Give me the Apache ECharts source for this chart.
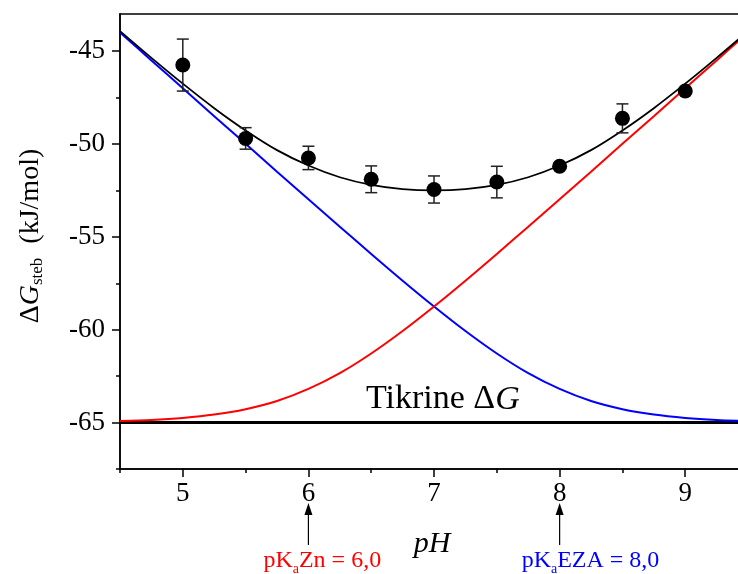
<!DOCTYPE html>
<html><head><meta charset="utf-8">
<script src="https://cdn.jsdelivr.net/npm/echarts@6/dist/echarts.min.js"></script>
<style>html,body{margin:0;padding:0;background:#fff}#c{width:738px;height:574px}</style>
</head><body><div id="c"></div>
<script>
// pH grid of the model curves
const curvePH   = [4.5, 4.75, 5.0, 5.25, 5.5, 5.75, 6.0, 6.25, 6.5, 6.75, 7.0, 7.25, 7.5, 7.75, 8.0, 8.25, 8.5, 8.75, 9.0, 9.25, 9.5];
// blue curve (EZA contribution)
const blueCurve = [-44.0, -45.5, -47.0, -48.5, -49.99, -51.49, -52.97, -54.45, -55.92, -57.36, -58.75, -60.07, -61.28, -62.34, -63.19, -63.84, -64.28, -64.57, -64.75, -64.86, -64.92];
// red curve (Zn contribution)
const redCurve  = [-64.92, -64.86, -64.75, -64.57, -64.28, -63.84, -63.19, -62.34, -61.28, -60.07, -58.75, -57.36, -55.92, -54.45, -52.97, -51.49, -49.99, -48.5, -47.0, -45.5, -44.0];
// black fit curve
const fitCurve  = [-43.92, -45.36, -46.75, -48.07, -49.27, -50.33, -51.16, -51.79, -52.2, -52.43, -52.5, -52.43, -52.2, -51.79, -51.16, -50.33, -49.27, -48.07, -46.75, -45.36, -43.92];
// measured points
const dataPH  = [5, 5.5, 6, 6.5, 7, 7.5, 8, 8.5, 9];
const dataDG  = [-45.75, -49.7, -50.75, -51.9, -52.45, -52.05, -51.2, -48.62, -47.15];
const dataErr = [1.4, 0.58, 0.63, 0.72, 0.73, 0.85, 0, 0.78, 0];
// intrinsic dG line
const intrinsicDG = -65;
const intrinsicLabel = 'Tikrine \u0394';
// axis ticks
const xMajor = [5, 6, 7, 8, 9];
const xMinor = [4.5, 5.5, 6.5, 7.5, 8.5];
const yMajor = [-65, -60, -55, -50, -45];
const yMinor = [-67.5, -62.5, -57.5, -52.5, -47.5];
const xRange = [4.5, 9.42];
const yRange = [-67.5, -43];
// pKa annotations
const pKaZn = 6.0, pKaEZA = 8.0;

const FONT = 'Liberation Serif';
const chart = echarts.init(document.getElementById('c'), null, {renderer: 'canvas'});
const G = {left: 120, top: 14, right: 0, bottom: 105};

function xAx(extra) {
  return Object.assign({
    type: 'value', min: xRange[0], max: xRange[1], position: 'bottom',
    splitLine: {show: false},
    axisLine: {show: true, lineStyle: {color: '#000', width: 1.5}},
    axisTick: {show: false}, axisLabel: {show: false}
  }, extra);
}
function yAx(extra) {
  return Object.assign({
    type: 'value', min: yRange[0], max: yRange[1], position: 'left',
    splitLine: {show: false},
    axisLine: {show: true, lineStyle: {color: '#000', width: 1.5}},
    axisTick: {show: false}, axisLabel: {show: false}
  }, extra);
}

chart.setOption({
  animation: false,
  backgroundColor: '#fff',
  grid: G,
  xAxis: [
    xAx({
      axisTick: {show: true, inside: false, length: 8, customValues: xMajor, lineStyle: {color: '#000', width: 1.5}},
      axisLabel: {show: true, customValues: xMajor, margin: 11, fontFamily: FONT, fontSize: 27, color: '#000',
                  formatter: v => String(v)}
    }),
    xAx({axisTick: {show: true, length: 4, customValues: xMinor, lineStyle: {color: '#000', width: 1.5}}}),
    xAx({position: 'top'})
  ],
  yAxis: [
    yAx({
      axisTick: {show: true, inside: false, length: 8, customValues: yMajor, lineStyle: {color: '#000', width: 1.5}},
      axisLabel: {show: true, customValues: yMajor, margin: 15, fontFamily: FONT, fontSize: 27, color: '#000',
                  formatter: v => String(v)}
    }),
    yAx({axisTick: {show: true, length: 4, customValues: yMinor, lineStyle: {color: '#000', width: 1.5}}})
  ],
  series: [
    {type: 'line', name: 'Tikrine', data: [[xRange[0], intrinsicDG], [9.5, intrinsicDG]], symbol: 'none',
     lineStyle: {color: '#000', width: 3}, z: 2, clip: true},
    {type: 'line', name: 'EZA', data: curvePH.map((p, i) => [p, blueCurve[i]]), smooth: 0.3, symbol: 'none',
     lineStyle: {color: '#0000ff', width: 2}, z: 3, clip: true},
    {type: 'line', name: 'Zn', data: curvePH.map((p, i) => [p, redCurve[i]]), smooth: 0.3, symbol: 'none',
     lineStyle: {color: '#ff0000', width: 2}, z: 3, clip: true},
    {type: 'line', name: 'fit', data: curvePH.map((p, i) => [p, fitCurve[i]]), smooth: 0.3, symbol: 'none',
     lineStyle: {color: '#000', width: 1.8}, z: 4, clip: true},
    {type: 'custom', name: 'err', z: 5,
     data: dataPH.map((p, i) => [p, dataDG[i], dataErr[i]]),
     renderItem: function (params, api) {
       const x = api.value(0), y = api.value(1), e = api.value(2);
       if (!e) return {type: 'group', children: []};
       const t = api.coord([x, y + e]), b = api.coord([x, y - e]);
       const w = 6, st = {stroke: '#222', lineWidth: 1.5};
       return {type: 'group', children: [
         {type: 'line', shape: {x1: t[0], y1: t[1], x2: b[0], y2: b[1]}, style: st},
         {type: 'line', shape: {x1: t[0] - w, y1: t[1], x2: t[0] + w, y2: t[1]}, style: st},
         {type: 'line', shape: {x1: b[0] - w, y1: b[1], x2: b[0] + w, y2: b[1]}, style: st}
       ]};
     }},
    {type: 'scatter', name: 'data', data: dataPH.map((p, i) => [p, dataDG[i]]), symbol: 'circle', symbolSize: 15,
     itemStyle: {color: '#000', opacity: 1}, z: 6}
  ]
});

const px6 = chart.convertToPixel({xAxisIndex: 0, yAxisIndex: 0}, [pKaZn, intrinsicDG]);
const px8 = chart.convertToPixel({xAxisIndex: 0, yAxisIndex: 0}, [pKaEZA, intrinsicDG]);
const tik = chart.convertToPixel({xAxisIndex: 0, yAxisIndex: 0}, [7.07, intrinsicDG]);

function arrow(x) {
  return [
    {type: 'line', shape: {x1: x, y1: 545, x2: x, y2: 512}, style: {stroke: '#000', lineWidth: 1.2}},
    {type: 'polygon', shape: {points: [[x, 503], [x - 4, 515], [x + 4, 515]]}, style: {fill: '#000'}}
  ];
}

chart.setOption({
  graphic: [
    {type: 'text', x: 31, y: 236, rotation: Math.PI / 2, style: {
      text: '{n|\u0394}{g|G}{s|steb}{n|  (kJ/mol)}', align: 'center', verticalAlign: 'middle',
      rich: {
        n: {fontFamily: FONT, fontSize: 28, fill: '#000'},
        g: {fontFamily: FONT, fontSize: 28, fontStyle: 'italic', fill: '#000'},
        s: {fontFamily: FONT, fontSize: 17, fill: '#000', padding: [13, 0, 0, 0]}
      }}},
    {type: 'text', x: tik[0], y: tik[1] - 6, style: {
      text: '{n|' + intrinsicLabel + '}{g|G}', align: 'center', verticalAlign: 'bottom',
      rich: {
        n: {fontFamily: FONT, fontSize: 34, fill: '#000'},
        g: {fontFamily: FONT, fontSize: 34, fontStyle: 'italic', fill: '#000'}
      }}},
    {type: 'text', x: 432, y: 544, style: {text: 'pH', fontFamily: FONT, fontSize: 30, fontStyle: 'italic',
      fill: '#000', align: 'center', verticalAlign: 'middle'}},
    ...arrow(px6[0]), ...arrow(px8[0]),
    {type: 'text', x: px6[0] - 45, y: 561, style: {
      text: '{m|pK}{s|a}{m|Zn = 6,0}', align: 'left', verticalAlign: 'middle',
      rich: {
        m: {fontFamily: FONT, fontSize: 24, fill: '#ff0000'},
        s: {fontFamily: FONT, fontSize: 14, fill: '#ff0000', padding: [16, 0, 0, 0]}
      }}},
    {type: 'text', x: px8[0] - 38, y: 561, style: {
      text: '{m|pK}{s|a}{m|EZA = 8,0}', align: 'left', verticalAlign: 'middle',
      rich: {
        m: {fontFamily: FONT, fontSize: 24, fill: '#0000ff'},
        s: {fontFamily: FONT, fontSize: 14, fill: '#0000ff', padding: [16, 0, 0, 0]}
      }}}
  ]
});
</script></body></html>
